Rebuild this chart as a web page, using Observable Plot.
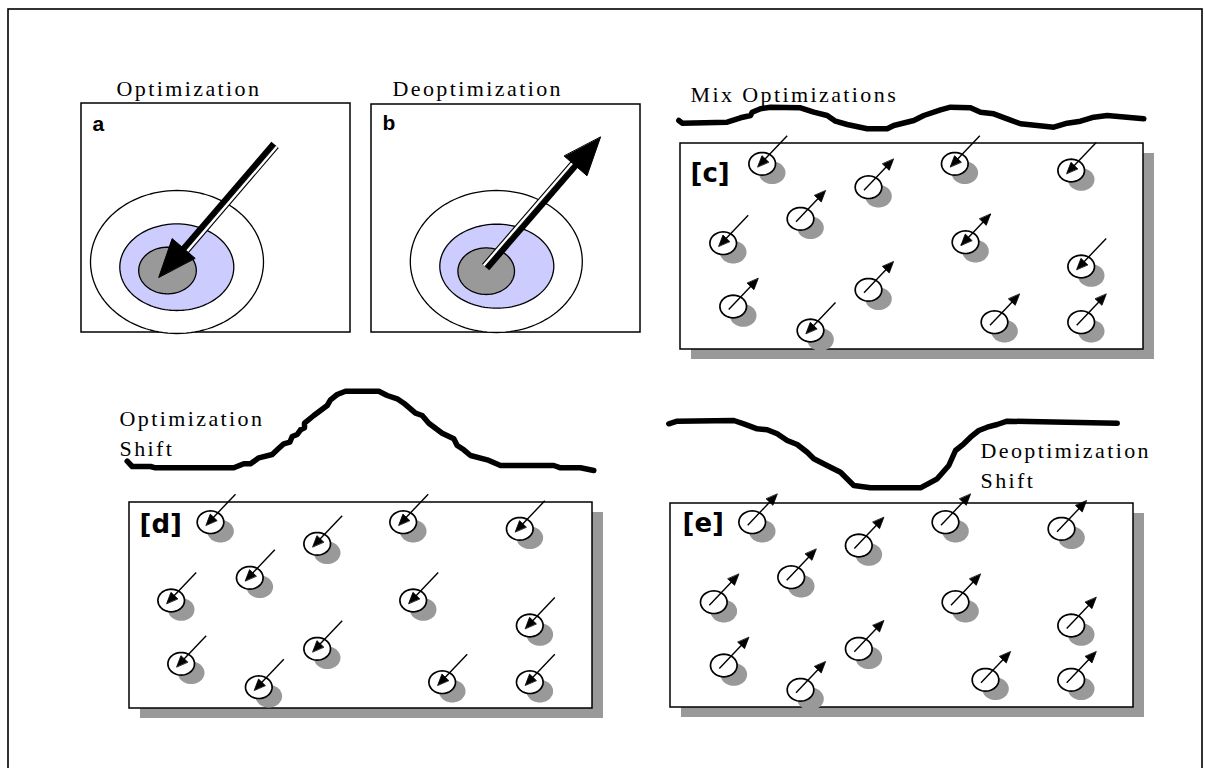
<!DOCTYPE html>
<html><head><meta charset="utf-8">
<script src="https://cdn.jsdelivr.net/npm/d3@7"></script>
<script src="https://cdn.jsdelivr.net/npm/@observablehq/plot@0.6"></script>
<style>body{margin:0;background:#fff}</style>
</head><body><div id="chart"></div>
<script>
// ---------- data (diagram coordinates, 1205 x 768 canvas) ----------
const outerFrame = [{x1: 8, y1: 9, x2: 1202, y2: 775}];

const panelBoxes = [
  {id: "a", x1: 81,  y1: 103, x2: 350,  y2: 332, shadow: false},
  {id: "b", x1: 371, y1: 104, x2: 640,  y2: 332, shadow: false},
  {id: "c", x1: 680, y1: 143, x2: 1143, y2: 349, shadow: true},
  {id: "d", x1: 129, y1: 502, x2: 592,  y2: 708, shadow: true},
  {id: "e", x1: 670, y1: 503, x2: 1133, y2: 707, shadow: true}
];

// target rings: outer (white), middle (lavender), inner (gray)
const ringsA = [
  {cx: 176.5, cy: 261.5, rx: 86.5, ry: 71.5, fill: "white"},
  {cx: 176.3, cy: 266.7, rx: 57,   ry: 43.3, fill: "#ccccff"},
  {cx: 167,   cy: 270,   rx: 28.8, ry: 23.3, fill: "#999999"}
];
const ringsB = [
  {cx: 495.8, cy: 261,   rx: 86,   ry: 71,   fill: "white"},
  {cx: 496.3, cy: 265.7, rx: 57,   ry: 42,   fill: "#ccccff"},
  {cx: 485.7, cy: 270.7, rx: 28.3, ry: 23.3, fill: "#999999"}
];

// big arrows (start -> tip)
const bigArrows = [
  {x1: 273,   y1: 143, x2: 158.3, y2: 276.7},
  {x1: 486.7, y1: 268, x2: 600,   y2: 136.7}
];

// small particles: [cx, cy, direction]
const particlesC = [
  [761.7, 163.3, "in"], [868, 186.7, "out"], [954.3, 163.3, "in"], [1070.7, 170, "in"],
  [800, 218.3, "out"], [722.7, 242.7, "in"], [965, 241.7, "both"], [1080.7, 266, "in"],
  [732.7, 306, "out"], [868, 289.3, "out"], [810, 330, "in"], [994, 321.7, "out"],
  [1080.7, 321.7, "out"]
];
const particlesD = [
  [210, 521.7, "in"], [316.7, 543.3, "in"], [402.7, 521.7, "in"], [519.3, 528.3, "in"],
  [249.3, 577.3, "in"], [170.7, 600, "in"], [412.7, 600, "in"], [529.3, 625, "in"],
  [180.7, 663.3, "in"], [316.7, 648.3, "in"], [258.3, 686.7, "in"], [441.7, 681.7, "in"],
  [529.3, 681.7, "in"]
];
const particlesE = [
  [751.7, 521.7, "out"], [858.3, 545, "out"], [945, 521.7, "out"], [1061, 528.3, "out"],
  [790.7, 576.7, "out"], [713.3, 601.7, "out"], [955, 601.7, "out"], [1070.7, 625, "out"],
  [723.3, 665, "out"], [858.3, 648.3, "out"], [800, 689.3, "out"], [985, 679.3, "out"],
  [1070.7, 679.3, "out"]
];

// landscape curves
const curveC = [
  [678.3,120],[681.7,122.7],[726.7,121.7],[740,117.3],[750,115],[751.7,111.7],[760,108.3],[770,106.7],
  [800,107.3],[813.3,111.7],[826.7,115],[835,120.7],[846.7,124],[866.7,128.3],[886.7,128.3],[893.3,125],
  [913.3,120],[923.3,115],[940,109.3],[950,106.7],[970,107.3],[980,111.7],[993.3,113.3],[1006.7,118.3],
  [1020,123.3],[1053.3,126.7],[1066.7,122.7],[1080,120.7],[1093.3,116.7],[1106.7,115],[1143.3,118.3]
];
const curveD = [
  [126.7,460.7],[131.7,466],[150,466],[155,467.3],[233.3,467.3],[243.3,463.3],[250,463.3],[258.3,457.3],
  [271.7,454],[276.7,449.3],[283.3,443.3],[289.3,441.7],[291.7,436],[296.7,434],[300,429.3],[304,427.3],
  [304,422.7],[313.3,415],[326.7,405],[330,399.3],[336.7,394],[345,390.7],[378.3,390.7],[386.7,395],
  [396.7,398.3],[403.3,402.7],[415,412.7],[421.7,415],[428.3,422.7],[441.7,432.7],[453.3,438.3],[456.7,445],
  [463.3,449.3],[470,455],[486.7,459.3],[500,465],[553.3,465],[560,467.3],[580,467.3],[593.3,470]
];
const curveE = [
  [668.3,423.3],[676.7,420.7],[733.3,420],[743.3,423.3],[756.7,428.3],[766.7,429.3],[776.7,433.3],
  [786.7,440],[796.7,444],[806.7,451.7],[813.3,458.3],[830,466.7],[840,471.7],[853.3,485],[870,487.3],
  [920,487.3],[936.7,478.3],[943.3,470.7],[948.3,465],[955,450],[963.3,443.3],[970,436.7],[978.3,430],
  [986.7,426.7],[996.7,424],[1006.7,420.7],[1116.7,422.7]
];

const titles = [
  {text: "Optimization",      x: 116, y: 95},
  {text: "Deoptimization",    x: 392, y: 95},
  {text: "Mix Optimizations", x: 690, y: 101},
  {text: "Optimization",      x: 119, y: 425},
  {text: "Shift",             x: 119, y: 455},
  {text: "Deoptimization",    x: 980, y: 457},
  {text: "Shift",             x: 980, y: 487}
];
const smallLabels = [{text: "a", x: 92, y: 130}, {text: "b", x: 382, y: 129}];
const bracketLabels = [
  {text: "[c]", x: 690, y: 181},
  {text: "[d]", x: 139, y: 532},
  {text: "[e]", x: 682, y: 531}
];

// ---------- geometry helpers ----------
function ellipsePts(e, id, n = 72) {
  return d3.range(n).map(i => {
    const t = 2 * Math.PI * i / n;
    return {id, x: e.cx + e.rx * Math.cos(t), y: e.cy + e.ry * Math.sin(t)};
  });
}
function headPoly(sx, sy, tx, ty, L, W, id) {
  const len = Math.hypot(tx - sx, ty - sy), ux = (tx - sx) / len, uy = (ty - sy) / len;
  const bx = tx - L * ux, by = ty - L * uy, px = -uy, py = ux;
  return [{id, x: tx, y: ty}, {id, x: bx + W * px, y: by + W * py}, {id, x: bx - W * px, y: by - W * py}];
}
function baseOf(sx, sy, tx, ty, L) {
  const len = Math.hypot(tx - sx, ty - sy);
  return [tx - L * (tx - sx) / len, ty - L * (ty - sy) / len];
}

// rings
const ringPts = {white: [], "#ccccff": [], "#999999": []};
[...ringsA, ...ringsB].forEach((r, i) => ringPts[r.fill].push(...ellipsePts(r, "r" + i, 120)));

// big arrows
const bigShaft = [], bigWhite = [], bigHeads = [];
bigArrows.forEach((a, i) => {
  const L = 38, W = 15;
  const [bx, by] = baseOf(a.x1, a.y1, a.x2, a.y2, L - 4);
  const len = Math.hypot(a.x2 - a.x1, a.y2 - a.y1);
  const ux = (a.x2 - a.x1) / len, uy = (a.y2 - a.y1) / len;
  const off = -4.6; // side of the light band
  const px = -uy * off, py = ux * off;
  bigShaft.push({x1: a.x1, y1: a.y1, x2: bx, y2: by});
  bigWhite.push({x1: a.x1 + px, y1: a.y1 + py, x2: bx + px, y2: by + py});
  bigHeads.push(...headPoly(a.x1, a.y1, a.x2, a.y2, L, W, "h" + i));
});

// particles
const IN = [-4.5, 3], OUT = [25, -28];
const partEllipses = [], partLines = [], partHeads = [];
[...particlesC, ...particlesD, ...particlesE].forEach(([cx, cy, dir], i) => {
  partEllipses.push(...ellipsePts({cx, cy, rx: 13.3, ry: 11.3}, "p" + i, 48));
  const ix = cx + IN[0], iy = cy + IN[1], ox = cx + OUT[0], oy = cy + OUT[1];
  const L = 11, W = 4.6;
  if (dir === "in") {
    const [bx, by] = baseOf(ox, oy, ix, iy, L - 1);
    partLines.push({x1: ox, y1: oy, x2: bx, y2: by});
    partHeads.push(...headPoly(ox, oy, ix, iy, L, W, "ph" + i));
  } else if (dir === "out") {
    const [bx, by] = baseOf(ix, iy, ox, oy, L - 1);
    partLines.push({x1: ix, y1: iy, x2: bx, y2: by});
    partHeads.push(...headPoly(ix, iy, ox, oy, L, W, "ph" + i));
  } else {
    partLines.push({x1: ix, y1: iy, x2: ox, y2: oy});
    partHeads.push(...headPoly(ix, iy, ox, oy, L, W, "ph" + i + "o"));
    partHeads.push(...headPoly(ox, oy, ix, iy, L, W, "ph" + i + "i"));
  }
});

const curves = [
  ...curveC.map(([x, y]) => ({id: "c", x, y})),
  ...curveD.map(([x, y]) => ({id: "d", x, y})),
  ...curveE.map(([x, y]) => ({id: "e", x, y}))
];

const serif = "'Liberation Serif', 'Times New Roman', serif";

const chart = Plot.plot({
  width: 1205, height: 768, margin: 0,
  x: {domain: [0, 1205], range: [0, 1205], axis: null},
  y: {domain: [0, 768], range: [0, 768], axis: null},
  style: {background: "white"},
  marks: [
    Plot.rect(outerFrame, {x1: "x1", y1: "y1", x2: "x2", y2: "y2", fill: "white", stroke: "black", strokeWidth: 1.6}),
    Plot.rect(panelBoxes.filter(d => d.shadow), {x1: "x1", y1: "y1", x2: "x2", y2: "y2", fill: "#999999", dx: 11, dy: 10}),
    Plot.rect(panelBoxes, {x1: "x1", y1: "y1", x2: "x2", y2: "y2", fill: "white", stroke: "black", strokeWidth: 1.5}),
    // rings
    Plot.line(ringPts.white, {x: "x", y: "y", z: "id", fill: "white", stroke: "black", strokeWidth: 1.3, curve: "linear-closed"}),
    Plot.line(ringPts["#ccccff"], {x: "x", y: "y", z: "id", fill: "#ccccff", stroke: "black", strokeWidth: 1.3, curve: "linear-closed"}),
    Plot.line(ringPts["#999999"], {x: "x", y: "y", z: "id", fill: "#999999", stroke: "black", strokeWidth: 1.3, curve: "linear-closed"}),
    // big arrows
    Plot.link(bigWhite, {x1: "x1", y1: "y1", x2: "x2", y2: "y2", stroke: "black", strokeWidth: 4.6, strokeLinecap: "butt"}),
    Plot.link(bigWhite, {x1: "x1", y1: "y1", x2: "x2", y2: "y2", stroke: "white", strokeWidth: 2.4, strokeLinecap: "butt"}),
    Plot.link(bigShaft, {x1: "x1", y1: "y1", x2: "x2", y2: "y2", stroke: "black", strokeWidth: 5.5, strokeLinecap: "butt"}),
    Plot.line(bigHeads, {x: "x", y: "y", z: "id", fill: "black", stroke: "black", strokeWidth: 1, curve: "linear-closed"}),
    // particles
    Plot.line(partEllipses, {x: "x", y: "y", z: "id", fill: "#999999", stroke: "none", dx: 10, dy: 9, curve: "linear-closed"}),
    Plot.line(partEllipses, {x: "x", y: "y", z: "id", fill: "white", stroke: "black", strokeWidth: 1.7, curve: "linear-closed"}),
    Plot.link(partLines, {x1: "x1", y1: "y1", x2: "x2", y2: "y2", stroke: "black", strokeWidth: 1.4}),
    Plot.line(partHeads, {x: "x", y: "y", z: "id", fill: "black", stroke: "black", strokeWidth: 0.8, curve: "linear-closed"}),
    // landscape curves
    Plot.line(curves, {x: "x", y: "y", z: "id", stroke: "black", strokeWidth: 5.5, strokeLinecap: "round", strokeLinejoin: "round"}),
    // texts
    Plot.text(titles, {x: "x", y: "y", text: "text", textAnchor: "start", lineAnchor: "bottom", fontFamily: serif, fontSize: 22, fill: "black"}),
    Plot.text(smallLabels, {x: "x", y: "y", text: "text", textAnchor: "start", lineAnchor: "bottom", fontFamily: "'Liberation Sans', Arial, sans-serif", fontWeight: "bold", fontSize: 21, fill: "black"}),
    Plot.text(bracketLabels, {x: "x", y: "y", text: "text", textAnchor: "start", lineAnchor: "bottom", fontFamily: "'DejaVu Sans', Verdana, sans-serif", fontWeight: "bold", fontSize: 26, fill: "black"})
  ]
});
chart.querySelectorAll("g").forEach(g => {
  const ff = g.getAttribute("font-family");
  if (ff && ff.includes("Liberation Serif")) {
    g.setAttribute("letter-spacing", "2.4px");
    g.style.letterSpacing = "2.4px";
  }
});
document.getElementById("chart").appendChild(chart);
</script></body></html>
